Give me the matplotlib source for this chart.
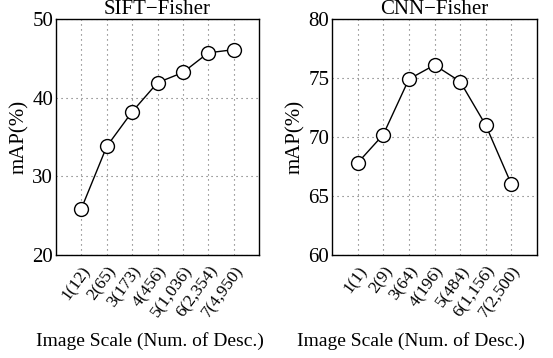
import matplotlib
matplotlib.use("Agg")
import matplotlib.pyplot as plt

sift_labels = ["1(12)", "2(65)", "3(173)", "4(456)", "5(1,036)", "6(2,354)", "7(4,950)"]
sift_vals = [25.9, 33.8, 38.2, 41.9, 43.2, 45.7, 46.1]
cnn_labels = ["1(1)", "2(9)", "3(64)", "4(196)", "5(484)", "6(1,156)", "7(2,500)"]
cnn_vals = [67.8, 70.2, 74.9, 76.1, 74.7, 71.0, 66.0]

plt.rcParams['font.family'] = ['Liberation Serif', 'DejaVu Serif']
plt.rcParams['mathtext.fontset'] = 'stix'

fig = plt.figure(figsize=(5.53, 3.58), dpi=100)
W, H = 553, 358
ax1 = fig.add_axes([56 / W, 1 - 255 / H, 203 / W, 236 / H])
ax2 = fig.add_axes([332 / W, 1 - 255 / H, 205 / W, 236 / H])

def draw(ax, labels, vals, ylim, yticks, title, xlab_x):
    x = list(range(1, len(vals) + 1))
    ax.plot(x, vals, color='black', lw=1.0, marker='o', ms=10,
            mfc='white', mec='black', mew=1.0, zorder=3)
    ax.set_xlim(0, 8)
    ax.set_ylim(*ylim)
    ax.set_yticks(yticks)
    ax.set_xticks(x)
    ax.set_xticklabels(labels, rotation=54, ha='right', va='top',
                       rotation_mode='anchor', fontsize=12.5)
    ax.tick_params(axis='y', labelsize=15, length=0, pad=2)
    ax.tick_params(axis='x', length=0, pad=6)
    ax.grid(True, linestyle=(0, (1, 3.5)), color='#666666', lw=0.8)
    for s in ax.spines.values():
        s.set_linewidth(1.0)
    ax.set_title(title, fontsize=15, pad=0)
    ax.set_ylabel('mAP(%)', fontsize=15, labelpad=2)
    ax.set_xlabel('Image Scale (Num. of Desc.)', fontsize=14)
    ax.xaxis.set_label_coords(xlab_x, -0.325)

draw(ax1, sift_labels, sift_vals, (20, 50), [20, 30, 40, 50], 'SIFT\u2212Fisher', 0.463)
draw(ax2, cnn_labels, cnn_vals, (60, 80), [60, 65, 70, 75, 80], 'CNN\u2212Fisher', 0.385)

fig.savefig('out.png', dpi=100)
